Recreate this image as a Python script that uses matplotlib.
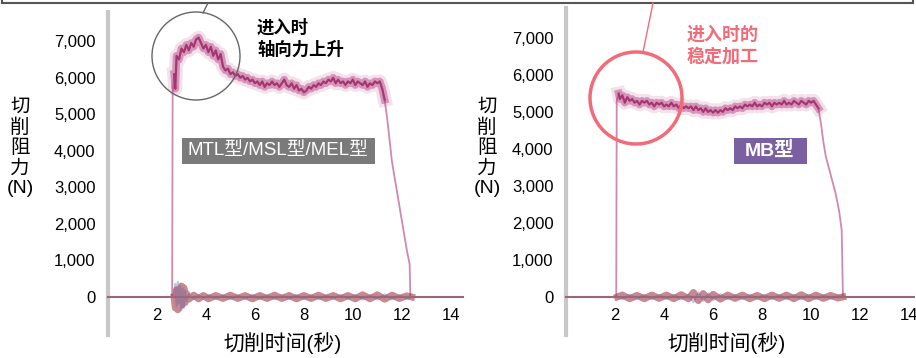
import matplotlib
matplotlib.use("Agg")
import matplotlib.pyplot as plt
import matplotlib.ticker as mticker
from matplotlib.patches import Ellipse, Rectangle
from matplotlib.lines import Line2D

plt.rcParams["font.family"] = ["Liberation Sans", "Noto Sans CJK SC", "DejaVu Sans"]

# cutting resistance, MTL/MSL/MEL type (left)
t_left = [0, 2.62, 2.64, 2.7, 2.75, 2.8, 2.9, 3.0, 3.1, 3.2, 3.3, 3.4, 3.5, 3.6, 3.7,
          3.8, 3.9, 4.0, 4.1, 4.2, 4.3, 4.4, 4.5, 4.6, 4.7, 4.8, 4.9, 5.0, 5.1, 5.2,
          5.3, 5.4, 5.5, 5.6, 5.7, 5.8, 5.9, 6.0, 6.1, 6.2, 6.3, 6.4, 6.5, 6.6, 6.7,
          6.8, 6.9, 7.0, 7.1, 7.2, 7.3, 7.4, 7.5, 7.6, 7.7, 7.8, 7.9, 8.0, 8.1, 8.2,
          8.3, 8.4, 8.5, 8.6, 8.7, 8.8, 8.9, 9.0, 9.1, 9.2, 9.3, 9.4, 9.5, 9.6, 9.7,
          9.8, 9.9, 10.0, 10.1, 10.2, 10.3, 10.4, 10.5, 10.6, 10.7, 10.8, 10.9, 11.0,
          11.1, 11.2, 11.3, 11.4, 11.5, 11.6, 11.8, 12.0, 12.2, 12.32, 12.35]
f_left = [0, 0, 5600, 6100, 5700, 6600, 6500, 6800, 6700, 6900, 6750, 6950, 6850, 7050, 7100,
          6950, 6800, 6900, 6700, 6850, 6600, 6750, 6500, 6650, 6300, 6200, 6250, 6100, 6150, 6050,
          6100, 6000, 6050, 5950, 6000, 5900, 5950, 5850, 5900, 5800, 5900, 5750, 5850, 5800, 5900,
          5800, 5850, 5750, 5850, 5950, 5800, 5750, 5850, 5700, 5800, 5650, 5700, 5600, 5650, 5750,
          5700, 5800, 5750, 5850, 5800, 5900, 5850, 5950, 5900, 6000, 5850, 5950, 5850, 5900, 5800,
          5900, 5850, 5950, 5800, 5900, 5850, 5800, 5900, 5750, 5850, 5800, 5900, 5850,
          5900, 5700, 5400, 4900, 4300, 3700, 2900, 2100, 1300, 900, 0]

# cutting resistance, MB type (right)
t_right = [0, 2.05, 2.07, 2.15, 2.2, 2.3, 2.4, 2.5, 2.6, 2.7, 2.8, 2.9, 3.0, 3.1, 3.2,
           3.3, 3.4, 3.5, 3.6, 3.7, 3.8, 3.9, 4.0, 4.1, 4.2, 4.3, 4.4, 4.5, 4.6, 4.7,
           4.8, 4.9, 5.0, 5.1, 5.2, 5.3, 5.4, 5.5, 5.6, 5.7, 5.8, 5.9, 6.0, 6.1, 6.2,
           6.3, 6.4, 6.5, 6.6, 6.7, 6.8, 6.9, 7.0, 7.1, 7.2, 7.3, 7.4, 7.5, 7.6, 7.7,
           7.8, 7.9, 8.0, 8.1, 8.2, 8.3, 8.4, 8.5, 8.6, 8.7, 8.8, 8.9, 9.0, 9.1, 9.2,
           9.3, 9.4, 9.5, 9.6, 9.7, 9.8, 9.9, 10.0, 10.1, 10.2, 10.3, 10.4, 10.5, 10.6,
           10.8, 11.0, 11.15, 11.25, 11.3]
f_right = [0, 0, 5300, 5500, 5350, 5450, 5250, 5400, 5300, 5350, 5250, 5300, 5200, 5300, 5250,
           5300, 5200, 5250, 5150, 5250, 5200, 5250, 5150, 5200, 5150, 5250, 5150, 5200, 5100, 5200,
           5100, 5150, 5100, 5150, 5050, 5150, 5050, 5100, 5000, 5100, 5000, 5050, 4980, 5050, 4980,
           5050, 5000, 5100, 5050, 5100, 5050, 5150, 5100, 5150, 5100, 5200, 5150, 5200, 5150, 5250,
           5150, 5200, 5150, 5250, 5200, 5250, 5150, 5250, 5200, 5250, 5200, 5300, 5200, 5250, 5200,
           5300, 5250, 5200, 5300, 5250, 5200, 5300, 5250, 5300, 5200, 5100, 4700, 4200, 3800,
           3300, 2800, 2300, 1800, 0]

# other force components, noise around zero
tn_left = [2.7, 2.75, 2.8, 2.85, 2.9, 2.95, 3.0, 3.05, 3.1, 3.15, 3.2, 3.3, 3.5, 3.7, 3.9,
           4.1, 4.4, 4.7, 5.0, 5.3, 5.6, 5.9, 6.2, 6.5, 6.8, 7.1, 7.4, 7.7, 8.0, 8.3, 8.6,
           8.9, 9.2, 9.5, 9.8, 10.1, 10.4, 10.7, 11.0, 11.3, 11.6, 11.9, 12.2, 12.4]
fn_left = [0, -300, 200, -350, 150, -250, 300, -200, 250, -150, 100, -60, 50, -50, 40,
           -50, 40, -40, 50, -40, 40, -50, 40, -40, 50, -40, 40, -50, 40, -40, 50,
           -40, 40, -50, 40, -50, 60, -50, 60, -60, 50, -40, 30, 0]
tn_right = [2.1, 2.3, 2.6, 2.9, 3.2, 3.5, 3.8, 4.1, 4.4, 4.7, 5.0, 5.2, 5.4, 5.6, 5.8,
            6.0, 6.3, 6.6, 6.9, 7.2, 7.5, 7.8, 8.1, 8.4, 8.7, 9.0, 9.3, 9.6, 9.9, 10.2,
            10.5, 10.8, 11.1, 11.3]
fn_right = [0, 50, -50, 40, -50, 50, -40, 50, -50, 60, -50, 120, -100, 90, -80,
            70, -60, 50, -40, 50, -50, 40, -50, 50, -40, 50, -50, 60, -50, 50,
            -40, 40, -30, 0]

y_ticks = [0, 1000, 2000, 3000, 4000, 5000, 6000, 7000]
x_ticks = [2, 4, 6, 8, 10, 12, 14]

TRACE = "#b23a7a"
W, H = 916, 358


def px(x, y):
    return x / W, 1 - y / H


fig = plt.figure(figsize=(9.16, 3.58), dpi=100)

# (left px, top px, right px, bottom px, ylim, xlim, t, f, plateau slice, noise t, noise f, xlabel x)
panels = [
    (108, 12, 463, 335, (-1040, 7800), (0, 14.5), t_left, f_left, (3, 91),
     tn_left, fn_left, 283),
    (566, 8, 914, 335, (-1030, 7810), (0, 14.2), t_right, f_right, (3, 86),
     tn_right, fn_right, 727),
]

for x0, y0, x1, y1, ylim, xlim, t, f, (i0, i1), tn, fn, xlab_x in panels:
    l, b = px(x0, y1)
    ax = fig.add_axes([l, b, (x1 - x0) / W, (y1 - y0) / H])
    ax.set_facecolor("none")
    ax.set_xlim(*xlim)
    ax.set_ylim(*ylim)

    # thin rise and fall
    ax.plot(t, f, color=TRACE, lw=1.3, alpha=0.6)
    # fuzzy band on the plateau
    ax.plot(t[i0:i1], f[i0:i1], color=TRACE, lw=10, alpha=0.15, solid_joinstyle="round")
    ax.plot(t[i0:i1], f[i0:i1], color=TRACE, lw=5.5, alpha=0.45, solid_joinstyle="round")
    ax.plot(t[i0:i1], f[i0:i1], color="#a02a68", lw=1.5, alpha=0.8)
    # noise of the other components
    ax.plot(tn, fn, color="#9a2838", lw=5, alpha=0.55, solid_joinstyle="round")
    ax.plot(tn, [v * -1.2 for v in fn], color="#5a5aa0", lw=1.5, alpha=0.35)

    for side in ["top", "right"]:
        ax.spines[side].set_visible(False)
    ax.spines["left"].set_color("#c8c8c8")
    ax.spines["left"].set_linewidth(3)
    ax.spines["bottom"].set_position(("data", 0))
    ax.spines["bottom"].set_color("#9c6878")
    ax.spines["bottom"].set_linewidth(1.5)

    ax.set_yticks(y_ticks)
    ax.set_xticks(x_ticks)
    ax.yaxis.set_major_formatter(mticker.FuncFormatter(lambda v, p: f"{int(v):,}"))
    ax.tick_params(axis="y", length=0, pad=9, labelsize=12)
    ax.tick_params(axis="x", length=0, pad=8, labelsize=12)

    fig.text(*px(xlab_x, 343), "切削时间(秒)", ha="center", va="center", fontsize=15)

# y-axis titles, stacked vertically
for x in (20, 487):
    fig.text(*px(x, 148), "切\n削\n阻\n力\n(N)", ha="center", va="center",
             fontsize=14, linespacing=1.2)

# frame edge at top of the picture
fig.add_artist(Line2D([2 / W, 913 / W], [1 - 3 / H, 1 - 3 / H], color="#555555", lw=1.5))
fig.add_artist(Line2D([2 / W, 2 / W], [1 - 3 / H, 1], color="#555555", lw=1.5))
fig.add_artist(Line2D([913 / W, 913 / W], [1 - 3 / H, 1], color="#555555", lw=1.5))

# left callout
fig.add_artist(Ellipse(px(196, 56), 88 / W, 88 / H, fill=False, ec="#666666", lw=1))
fig.add_artist(Line2D([203 / W, 208 / W], [1 - 13 / H, 1 - 3 / H], color="#666666", lw=1))
fig.text(*px(257, 38), "进入时\n轴向力上升", ha="left", va="center", fontsize=12.5,
         fontweight="bold", linespacing=1.35)

# right callout
RED = "#f26b78"
fig.add_artist(Ellipse(px(636, 98), 92 / W, 92 / H, fill=False, ec=RED, lw=2.5))
fig.add_artist(Line2D([643 / W, 653 / W], [1 - 52 / H, 1 - 3 / H], color=RED, lw=1))
fig.text(*px(687, 46), "进入时的\n稳定加工", ha="left", va="center", fontsize=13,
         fontweight="bold", color=RED, linespacing=1.35)

# type labels
fig.add_artist(Rectangle(px(182, 164), 193 / W, 26 / H, color="#7a7a7a", lw=0))
fig.text(*px(278, 151), "MTL型/MSL型/MEL型", ha="center", va="center", fontsize=13.5,
         color="white")
fig.add_artist(Rectangle(px(734, 164), 73 / W, 26 / H, color="#7a60a0", lw=0))
fig.text(*px(770, 151), "MB型", ha="center", va="center", fontsize=14,
         color="white", fontweight="bold")

fig.savefig("out.png", dpi=100)
